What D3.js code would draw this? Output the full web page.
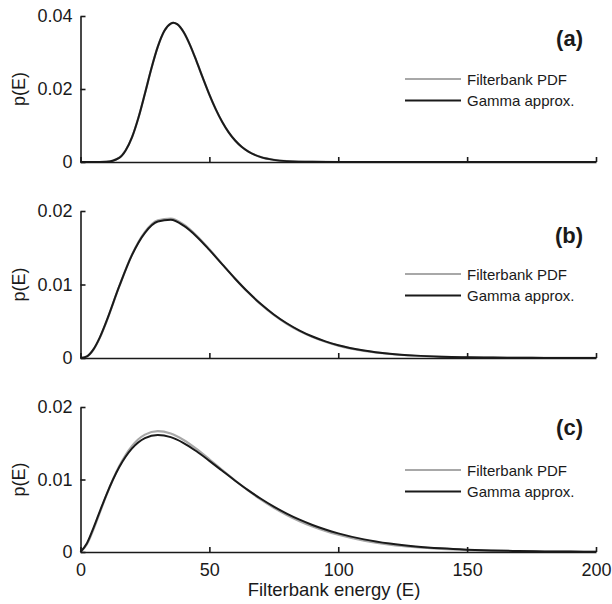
<!DOCTYPE html>
<html>
<head>
<meta charset="utf-8">
<script src="https://cdn.jsdelivr.net/npm/d3@7"></script>
<style>
  body { margin: 0; background: #fff; }
  svg { display: block; }
  text { font-family: "Liberation Sans", Arial, sans-serif; fill: #1a1a1a; }
</style>
</head>
<body>
<svg id="chart" width="612" height="604"></svg>
<script>
// ---- data ----
const panelLabels = ["(a)", "(b)", "(c)"];
const seriesNames = ["Filterbank PDF", "Gamma approx."];
const xTicks = [0, 50, 100, 150, 200];
const yTicksA = [0, 0.02, 0.04];
const yTicksBC = [0, 0.01, 0.02];

const energyA = [0, 5, 10, 15, 17.5, 20, 22.5, 25, 27.5, 30, 32.5, 35, 36, 37.5, 40, 42.5, 45, 47.5, 50, 52.5, 55, 57.5, 60, 62.5, 65, 70, 75, 80, 90, 100, 120, 150, 200];
const pdfA =   [0, 0, 0.00005, 0.00115, 0.00317, 0.00682, 0.0122, 0.01878, 0.02562, 0.0316, 0.03588, 0.03792, 0.03814, 0.03777, 0.0356, 0.03203, 0.02764, 0.02297, 0.01847, 0.01442, 0.01096, 0.00811, 0.00588, 0.00417, 0.0029, 0.00133, 0.00058, 0.00024, 0.000035, 0.000005, 0, 0, 0];
const gammaA = [0, 0, 0.00005, 0.00115, 0.00317, 0.00682, 0.0122, 0.01878, 0.02562, 0.0316, 0.03588, 0.03792, 0.03814, 0.03777, 0.0356, 0.03203, 0.02764, 0.02297, 0.01847, 0.01442, 0.01096, 0.00811, 0.00588, 0.00417, 0.0029, 0.00133, 0.00058, 0.00024, 0.000035, 0.000005, 0, 0, 0];

const energyBC = [0, 2.5, 5, 7.5, 10, 15, 20, 25, 30, 35, 40, 45, 50, 55, 60, 65, 70, 75, 80, 85, 90, 95, 100, 110, 120, 130, 140, 150, 160, 170, 180, 190, 200];
const pdfB =   [0, 0.000211, 0.001122, 0.002738, 0.004866, 0.009707, 0.01409, 0.01717, 0.018749, 0.018977, 0.018163, 0.016665, 0.01479, 0.012775, 0.010786, 0.008936, 0.007284, 0.005856, 0.004653, 0.003658, 0.002849, 0.002201, 0.001687, 0.000972, 0.000548, 0.000303, 0.000165, 0.0000885, 0.000047, 0.000025, 0.000013, 0.000007, 0.0000035];
const gammaB = [0, 0.000228, 0.001171, 0.002812, 0.004946, 0.009739, 0.014033, 0.017035, 0.018574, 0.018795, 0.018, 0.016544, 0.01471, 0.012739, 0.01079, 0.008969, 0.007338, 0.005924, 0.004726, 0.003732, 0.002919, 0.002265, 0.00174, 0.001016, 0.000578, 0.000323, 0.000178, 0.0000964, 0.000052, 0.000028, 0.000015, 0.000008, 0.000004];
const pdfC =   [0, 0.00106, 0.003085, 0.005426, 0.007768, 0.011822, 0.014641, 0.016192, 0.016675, 0.016341, 0.015453, 0.014215, 0.012792, 0.011309, 0.009862, 0.008488, 0.007232, 0.006106, 0.005116, 0.004259, 0.003523, 0.002899, 0.002374, 0.001571, 0.001025, 0.00066, 0.000421, 0.000266, 0.000167, 0.000104, 0.000065, 0.00004, 0.000025];
const gammaC = [0, 0.001202, 0.003292, 0.005604, 0.007858, 0.011679, 0.014284, 0.015706, 0.016146, 0.015844, 0.015029, 0.01389, 0.012574, 0.011198, 0.009837, 0.00854, 0.007343, 0.00626, 0.005298, 0.004456, 0.003726, 0.0031, 0.002567, 0.00174, 0.001163, 0.000768, 0.000503, 0.000326, 0.00021, 0.000134, 0.0000853, 0.000054, 0.000034];

// ---- layout ----
const svg = d3.select("#chart");
const x = d3.scaleLinear().domain([0, 200]).range([80.5, 596]);

const panels = [
  { label: panelLabels[0], xs: energyA, pdf: pdfA, gamma: gammaA, yMax: 0.04, ticks: yTicksA, top: 16, bottom: 162, labelY: 46, xLabels: false },
  { label: panelLabels[1], xs: energyBC, pdf: pdfB, gamma: gammaB, yMax: 0.02, ticks: yTicksBC, top: 211, bottom: 358, labelY: 243, xLabels: false },
  { label: panelLabels[2], xs: energyBC, pdf: pdfC, gamma: gammaC, yMax: 0.02, ticks: yTicksBC, top: 407, bottom: 552, labelY: 435, xLabels: true }
];

const fmt = d => d === 0 ? "0" : d3.format(".2f")(d);
const ink = "#1a1a1a";
const grey = "#a8a8a8";

panels.forEach(p => {
  const y = d3.scaleLinear().domain([0, p.yMax]).range([p.bottom, p.top]);
  const g = svg.append("g");

  const line = d3.line()
    .x((d, i) => x(p.xs[i]))
    .y(d => y(d))
    .curve(d3.curveMonotoneX);

  // curves
  g.append("path").attr("d", line(p.pdf))
    .attr("fill", "none").attr("stroke", grey).attr("stroke-width", 2.2);
  g.append("path").attr("d", line(p.gamma))
    .attr("fill", "none").attr("stroke", ink).attr("stroke-width", 2);

  // y axis
  const ya = g.append("g").attr("transform", "translate(80.5,0)")
    .call(d3.axisLeft(y).tickValues(p.ticks).tickFormat(fmt)
      .tickSizeInner(-5).tickSizeOuter(0).tickPadding(8));
  // x axis
  const xa = g.append("g").attr("transform", `translate(0,${p.bottom})`)
    .call(d3.axisBottom(x).tickValues(xTicks).tickFormat(p.xLabels ? d3.format("d") : () => "")
      .tickSizeInner(-5).tickSizeOuter(0).tickPadding(11));

  [ya, xa].forEach(a => {
    a.select(".domain").attr("stroke", ink).attr("stroke-width", 1.6);
    a.selectAll(".tick line").attr("stroke", ink).attr("stroke-width", 1.6);
    a.selectAll(".tick text").attr("font-size", 18).attr("fill", ink)
      .style("font-family", "'Liberation Sans', Arial, sans-serif");
  });

  // y axis title
  g.append("text")
    .attr("transform", `translate(25,${(p.top + p.bottom) / 2}) rotate(-90)`)
    .attr("text-anchor", "middle")
    .attr("font-size", 18)
    .text("p(E)");

  // panel label
  g.append("text")
    .attr("x", 583).attr("y", p.labelY)
    .attr("text-anchor", "end")
    .attr("font-size", 22).attr("font-weight", "bold")
    .text(p.label);

  // legend
  const ly = p.top + 63;
  [grey, ink].forEach((c, i) => {
    const yy = ly + i * 21.5;
    g.append("line").attr("x1", 405).attr("x2", 461).attr("y1", yy).attr("y2", yy)
      .attr("stroke", c).attr("stroke-width", 2);
    g.append("text").attr("x", 467).attr("y", yy + 5.5)
      .attr("font-size", 15).text(seriesNames[i]);
  });
});

// x axis title
svg.append("text")
  .attr("x", 334).attr("y", 596)
  .attr("text-anchor", "middle")
  .attr("font-size", 18.5)
  .text("Filterbank energy (E)");
</script>
</body>
</html>
